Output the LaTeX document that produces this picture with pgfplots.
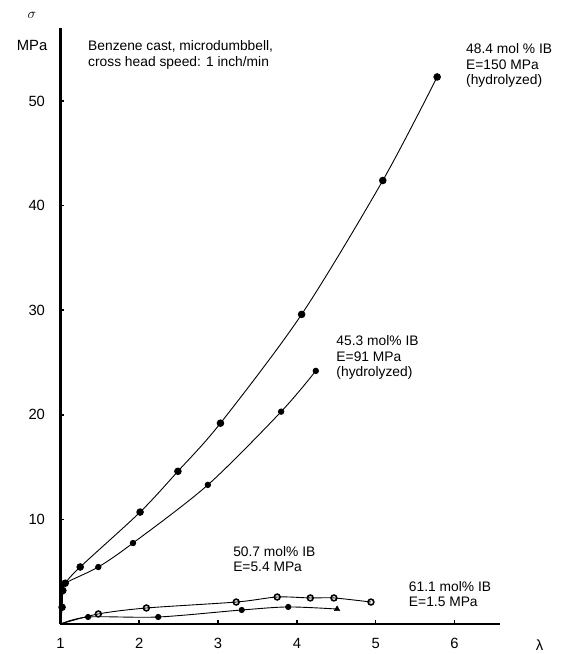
\documentclass[border=0pt]{standalone}
\usepackage{fontspec}
\setmainfont{Liberation Sans}
\usepackage{pgfplots}
\pgfplotsset{compat=1.18}

\newcommand{\lblfont}{\fontsize{13.8}{15.5}\selectfont}
\newcommand{\tickfont}{\fontsize{14.8}{16}\selectfont}

\begin{document}
\begin{tikzpicture}[x=1pt,y=1pt]
\useasboundingbox (-60.5,-30) rectangle (520.5,624);
\begin{axis}[
  at={(0,0)}, anchor=south west,
  scale only axis, width=439.7pt, height=596.2pt,
  xmin=1, xmax=6.58, ymin=0, ymax=57,
  axis lines*=left,
  axis line style={line width=2.6pt},
  xtick={1,...,6}, ytick={10,20,...,50},
  tick align=inside, major tick length=3.5pt,
  tick style={line width=1.6pt, black},
  clip=false,
  ticklabel style={font=\tickfont},
  /pgf/number format/assume math mode=true,
  yticklabel style={xshift=-12pt},
  xticklabel style={yshift=-11pt},
]
% 48.4 mol% IB, hydrolyzed
\addplot[black, line width=0.9pt, smooth, tension=0.5, mark=*, mark size=3.3pt,
  mark indices={2,...,11}]
  coordinates {(1.0,0) (1.02,1.6) (1.03,3.2) (1.06,3.9) (1.25,5.45) (2.01,10.7)
    (2.49,14.6) (3.03,19.2) (4.06,29.6) (5.09,42.4) (5.78,52.3)};
% 45.3 mol% IB, hydrolyzed
\addplot[black, line width=0.9pt, smooth, tension=0.5, mark=*, mark size=2.7pt,
  mark indices={4,...,9}]
  coordinates {(1.0,0) (1.02,1.6) (1.03,3.2) (1.06,3.9) (1.48,5.45) (1.92,7.74)
    (2.87,13.3) (3.80,20.3) (4.24,24.2)};
% 50.7 mol% IB
\addplot[black, line width=0.9pt, smooth, tension=0.5, mark=o, mark size=2.9pt,
  mark options={line width=1.6pt}, mark indices={2,...,8}]
  coordinates {(1.0,0) (1.48,0.96) (2.09,1.53) (3.23,2.10) (3.75,2.58)
    (4.17,2.49) (4.47,2.49) (4.94,2.10)};
% 61.1 mol% IB
\addplot[black, line width=0.9pt, smooth, tension=0.5, mark=*, mark size=2.6pt,
  mark indices={2,...,5}]
  coordinates {(1.0,0) (1.35,0.67) (2.24,0.67) (3.30,1.34) (3.89,1.63) (4.51,1.43)};
\addplot[only marks, black, mark=triangle*, mark size=3.2pt]
  coordinates {(4.51,1.43)};

\node[anchor=north west, align=left, inner sep=0pt, font=\lblfont]
  at (axis cs:1.349,55.8) {Benzene cast, microdumbbell,\\cross head speed: 1 inch/min};
\node[anchor=north west, align=left, inner sep=0pt, font=\lblfont]
  at (axis cs:6.146,55.5) {48.4 mol \% IB\\E=150 MPa\\(hydrolyzed)};
\node[anchor=north west, align=left, inner sep=0pt, font=\lblfont]
  at (axis cs:4.50,27.6) {45.3 mol\% IB\\E=91 MPa\\(hydrolyzed)};
\node[anchor=north west, align=left, inner sep=0pt, font=\lblfont]
  at (axis cs:3.19,7.46) {50.7 mol\% IB\\E=5.4 MPa};
\node[anchor=north west, align=left, inner sep=0pt, font=\lblfont]
  at (axis cs:5.42,4.11) {61.1 mol\% IB\\E=1.5 MPa};
\node[font=\tickfont] at (axis cs:0.638,58.2) {$\sigma$};
\node[font=\tickfont] at (axis cs:0.64,55.35) {MPa};
\node[font=\tickfont] at (axis cs:7.08,-2.0) {λ};
\end{axis}
\end{tikzpicture}
\end{document}
